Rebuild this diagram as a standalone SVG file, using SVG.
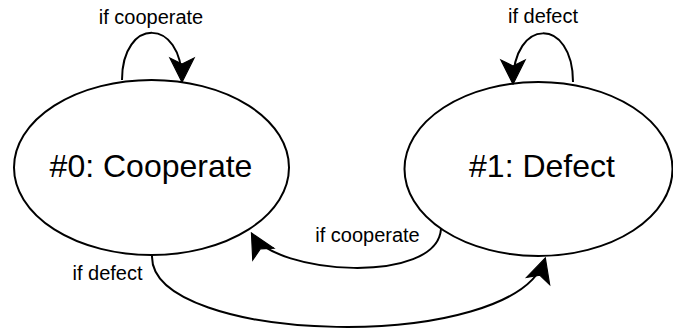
<svg xmlns="http://www.w3.org/2000/svg" width="673" height="329" viewBox="0 0 673 329">
<style>
.node{fill:#fff;stroke:#000;stroke-width:2}
.big{font-family:"Liberation Sans",Arial,sans-serif;font-size:32px;fill:#000;text-anchor:middle}
.lbl{font-family:"Liberation Sans",Arial,sans-serif;font-size:20px;fill:#000;text-anchor:middle}
.edge{fill:none;stroke:#000;stroke-width:2}
</style>
<defs>
<marker id="arr" markerUnits="userSpaceOnUse" orient="auto" markerWidth="30" markerHeight="30" viewBox="-24 -12 26 24" refX="0" refY="0">
<path d="M1,0 L-20,-10.5 L-14.75,0 L-20,10.5 Z" fill="#000" stroke="#000" stroke-width="1" stroke-linejoin="miter"/>
</marker>
</defs>
<g id="node0">
<ellipse class="node" cx="151.5" cy="167.5" rx="137.5" ry="87.5"/>
<text class="big" x="151" y="177">#0: Cooperate</text>
</g>
<g id="node1">
<ellipse class="node" cx="538.5" cy="169" rx="134" ry="87"/>
<text class="big" x="542" y="177">#1: Defect</text>
</g>
<g id="connectors">
<path class="edge" d="M122,80 C122,17 182,17 182,81" marker-end="url(#arr)"/>
<path class="edge" d="M573,82 C573,17 513,17 513,83" marker-end="url(#arr)"/>
<path class="edge" d="M441,229 C437,285 275,275 252,234" marker-end="url(#arr)"/>
<path class="edge" d="M152,256 C150,345 515,355 545,259" marker-end="url(#arr)"/>
<text class="lbl" x="151" y="24">if cooperate</text>
<text class="lbl" x="543" y="23">if defect</text>
<text class="lbl" x="367.5" y="242">if cooperate</text>
<text class="lbl" x="107.5" y="280">if defect</text>
</g>
</svg>
